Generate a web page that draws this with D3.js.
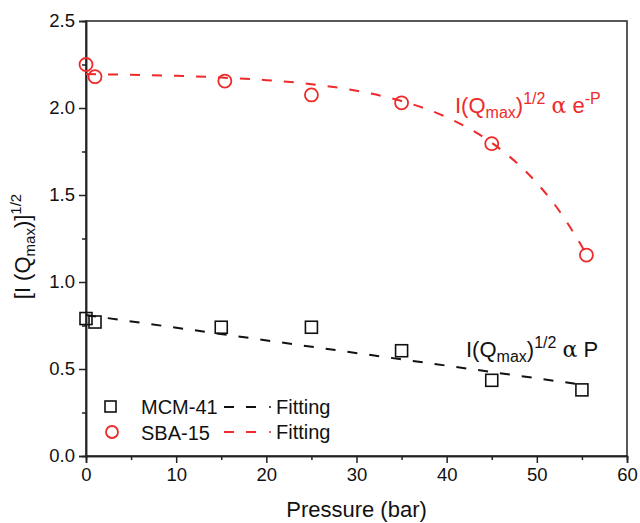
<!DOCTYPE html>
<html><head><meta charset="utf-8">
<script src="https://cdn.jsdelivr.net/npm/d3@7"></script>
<style>body{margin:0;background:#fff}svg{display:block;font-family:"Liberation Sans",Arial,sans-serif}</style>
</head><body>
<svg id="c" width="640" height="523"></svg>
<script>
const pressureMCM = [0, 1, 15, 25, 35, 45, 55];
const valuesMCM = [0.79, 0.77, 0.74, 0.74, 0.605, 0.435, 0.38];
const pressureSBA = [0, 1, 15.4, 25, 35, 45, 55.5];
const valuesSBA = [2.25, 2.18, 2.155, 2.075, 2.03, 1.795, 1.155];
const fitMCM_P = [0, 55];
const fitMCM_V = [0.81, 0.41];
const fitSBA_P = [0, 5, 10, 15, 20, 25, 30, 35, 40, 45, 50, 52.5, 55.5];
const fitSBA_V = [2.195, 2.191, 2.185, 2.175, 2.16, 2.137, 2.099, 2.04, 1.947, 1.80, 1.569, 1.408, 1.16];
const xTicks = [0, 10, 20, 30, 40, 50, 60];
const yTicks = [0.0, 0.5, 1.0, 1.5, 2.0, 2.5];

const RED = "#ee2a2a";
const svg = d3.select("#c");
const L = 86, R = 627, T = 21, B = 456;
const x = d3.scaleLinear().domain([0, 60]).range([L, R]);
const y = d3.scaleLinear().domain([0, 2.5]).range([B, T]);

// frame
svg.append("rect").attr("x", L).attr("y", T).attr("width", R - L).attr("height", B - T)
  .attr("fill", "none").attr("stroke", "#222").attr("stroke-width", 1.5);

// axes
svg.append("g").attr("transform", `translate(0,${B})`)
  .call(d3.axisBottom(x).tickValues(xTicks).tickSize(7).tickPadding(5).tickFormat(d3.format("d")));
svg.append("g").attr("transform", `translate(0,${B})`)
  .call(d3.axisBottom(x).tickValues(d3.range(5, 60, 10)).tickSize(4).tickFormat(""));
svg.append("g").attr("transform", `translate(${L},0)`)
  .call(d3.axisLeft(y).tickValues(yTicks).tickSize(7).tickPadding(4).tickFormat(d3.format(".1f")));
svg.append("g").attr("transform", `translate(${L},0)`)
  .call(d3.axisLeft(y).tickValues([0.25, 0.75, 1.25, 1.75, 2.25]).tickSize(4).tickFormat(""));
svg.selectAll(".domain").attr("stroke", "#222").attr("stroke-width", 1.5);
svg.selectAll(".tick line").attr("stroke", "#222").attr("stroke-width", 1.5);
svg.selectAll(".tick text").attr("font-size", 18.5).attr("fill", "#111")
  .attr("font-family", "'Liberation Sans',Arial,sans-serif");

// axis titles
svg.append("text").attr("x", (L + R) / 2).attr("y", 517).attr("text-anchor", "middle")
  .attr("font-size", 22).attr("fill", "#111").text("Pressure (bar)");
const yt = svg.append("text").attr("transform", `translate(30,${(T + B) / 2 + 8}) rotate(-90)`)
  .attr("text-anchor", "middle").attr("font-size", 22).attr("fill", "#111");
yt.append("tspan").text("[I (Q");
yt.append("tspan").attr("font-size", 15).attr("dy", 5).text("max");
yt.append("tspan").attr("dy", -5).text(")]");
yt.append("tspan").attr("font-size", 15).attr("dy", -9).text("1/2");

// fits
const line = d3.line().x(d => x(d[0])).y(d => y(d[1]));
svg.append("path").datum(fitMCM_P.map((p, i) => [p, fitMCM_V[i]]))
  .attr("d", line).attr("fill", "none").attr("stroke", "#111").attr("stroke-width", 2)
  .attr("stroke-dasharray", "10,12");
svg.append("path").datum(fitSBA_P.map((p, i) => [p, fitSBA_V[i]]))
  .attr("d", line.curve(d3.curveMonotoneX)).attr("fill", "none").attr("stroke", RED).attr("stroke-width", 2)
  .attr("stroke-dasharray", "10,12");

// markers
svg.append("g").selectAll("rect").data(pressureMCM.map((p, i) => [p, valuesMCM[i]])).join("rect")
  .attr("x", d => x(d[0]) - 6).attr("y", d => y(d[1]) - 6).attr("width", 12).attr("height", 12)
  .attr("fill", "none").attr("stroke", "#111").attr("stroke-width", 1.6);
svg.append("g").selectAll("circle").data(pressureSBA.map((p, i) => [p, valuesSBA[i]])).join("circle")
  .attr("cx", d => x(d[0])).attr("cy", d => y(d[1])).attr("r", 6.5)
  .attr("fill", "none").attr("stroke", RED).attr("stroke-width", 1.8);

// annotations
function annot(xp, yp, color, tail, supTail) {
  const t = svg.append("text").attr("x", xp).attr("y", yp).attr("font-size", 22).attr("fill", color);
  t.append("tspan").text("I(Q");
  t.append("tspan").attr("font-size", 16).attr("dy", 5).text("max");
  t.append("tspan").attr("dy", -5).text(")");
  t.append("tspan").attr("font-size", 16).attr("dy", -9).text("1/2");
  t.append("tspan").attr("dy", 9).text(" ");
  t.append("tspan").attr("font-family", "'DejaVu Serif',serif").text("\u03B1");
  t.append("tspan").text(" " + tail);
  if (supTail) t.append("tspan").attr("font-size", 16).attr("dy", -9).text(supTail);
}
annot(455, 113, RED, "e", "-P");
annot(466, 357, "#111", "P", null);

// legend
const lg = svg.append("g");
lg.append("rect").attr("x", 105).attr("y", 401).attr("width", 11).attr("height", 11)
  .attr("fill", "none").attr("stroke", "#111").attr("stroke-width", 1.6);
lg.append("circle").attr("cx", 112).attr("cy", 432).attr("r", 6)
  .attr("fill", "none").attr("stroke", RED).attr("stroke-width", 1.8);
lg.append("text").attr("x", 141).attr("y", 414).attr("font-size", 20).attr("fill", "#111").text("MCM-41");
lg.append("text").attr("x", 141).attr("y", 440).attr("font-size", 20).attr("fill", "#111").text("SBA-15");
[["#111", 407], [RED, 432]].forEach(([c, yy]) => {
  lg.append("line").attr("x1", 224).attr("x2", 256).attr("y1", yy).attr("y2", yy)
    .attr("stroke", c).attr("stroke-width", 2).attr("stroke-dasharray", "10,12");
  lg.append("circle").attr("cx", 270).attr("cy", yy).attr("r", 1).attr("fill", c);
  lg.append("text").attr("x", 276).attr("y", yy + 7).attr("font-size", 20).attr("fill", "#111").text("Fitting");
});
</script>
</body></html>
